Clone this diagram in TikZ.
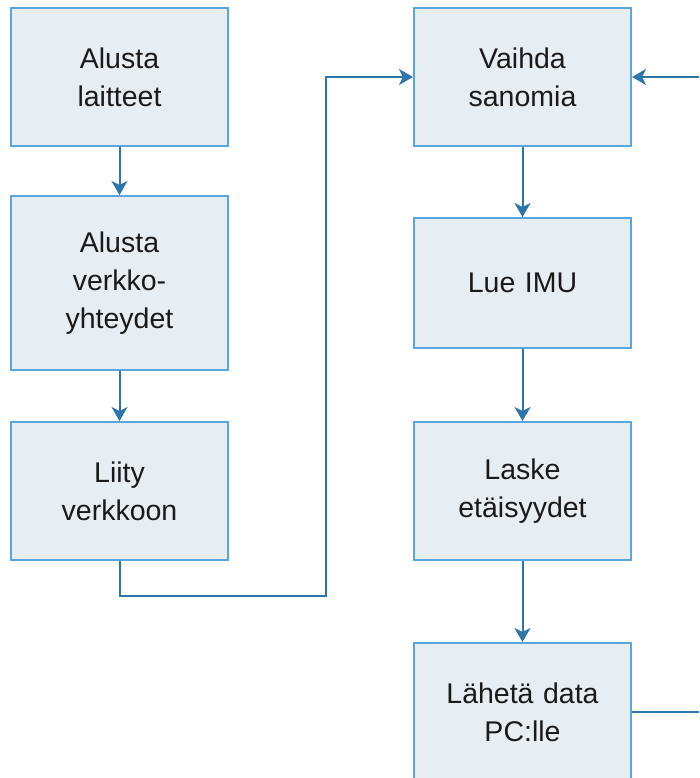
\documentclass[tikz,border=0pt]{standalone}
\usepackage{fontspec}
\setmainfont{Liberation Sans}
\usetikzlibrary{arrows.meta}
\definecolor{boxfill}{HTML}{E7EEF3}
\definecolor{boxline}{HTML}{5AA6DE}
\definecolor{flowline}{HTML}{2E76AA}
\definecolor{ink}{HTML}{1A1A1A}
\begin{document}
\begin{tikzpicture}[x=1pt,y=-1pt,
  stepbox/.style={draw=boxline, line width=2pt, fill=boxfill, rectangle,
    minimum width=217pt, inner sep=0pt, text width=200pt, align=center,
    text=ink, font=\fontsize{28.5}{38}\selectfont},
  flow/.style={draw=flowline, line width=2pt,
    -{Stealth[length=14pt,width=16pt,inset=4pt]}}]
\useasboundingbox (0,0) rectangle (699,778);
\clip (0,0) rectangle (699,778);

% left column: start-up
\node[stepbox, minimum height=138pt] (b1) at (119.5,77) {Alusta\\laitteet};
\node[stepbox, minimum height=174pt] (b2) at (119.5,283) {Alusta\\verkko-\\yhteydet};
\node[stepbox, minimum height=138pt] (b3) at (119.5,491) {Liity\\verkkoon};

% right column: main loop
\node[stepbox, minimum height=138pt] (b4) at (522.5,77) {Vaihda\\sanomia};
\node[stepbox, minimum height=130pt] (b5) at (522.5,283) {Lue IMU};
\node[stepbox, minimum height=138pt] (b6) at (522.5,491) {Laske\\etäisyydet};
\node[stepbox, minimum height=138pt] (b7) at (522.5,712) {Lähetä data\\PC:lle};

\coordinate (j1) at (326,596);
\coordinate (r1) at (730,712);

\draw[flow] (b1) -- (b2);
\draw[flow] (b2) -- (b3);
\draw[flow] (b3.south) |- (j1) |- (b4.west);
\draw[flow] (b4) -- (b5);
\draw[flow] (b5) -- (b6);
\draw[flow] (b6) -- (b7);
\draw[flow] (b7.east) -- (r1) |- (b4.east);
\end{tikzpicture}
\end{document}
